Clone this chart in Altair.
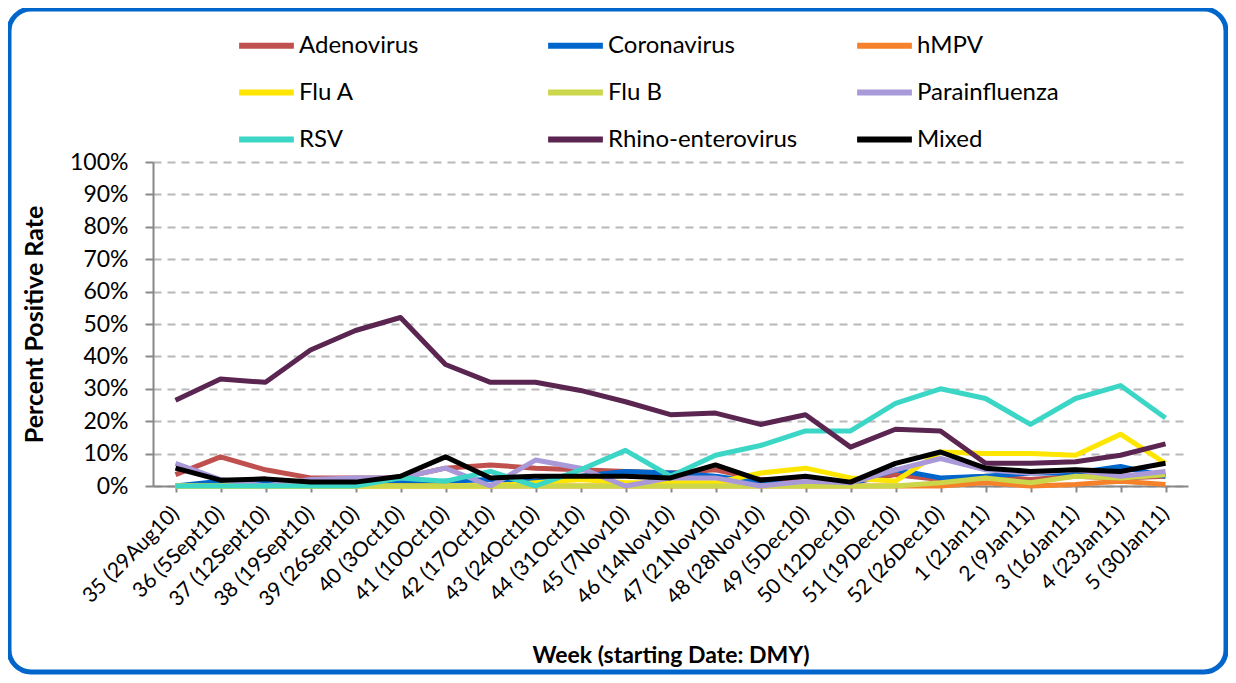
import altair as alt
import pandas as pd

weeks = ["35 (29Aug10)", "36 (5Sept10)", "37 (12Sept10)", "38 (19Sept10)", "39 (26Sept10)",
         "40 (3Oct10)", "41 (10Oct10)", "42 (17Oct10)", "43 (24Oct10)", "44 (31Oct10)",
         "45 (7Nov10)", "46 (14Nov10)", "47 (21Nov10)", "48 (28Nov10)", "49 (5Dec10)",
         "50 (12Dec10)", "51 (19Dec10)", "52 (26Dec10)", "1 (2Jan11)", "2 (9Jan11)",
         "3 (16Jan11)", "4 (23Jan11)", "5 (30Jan11)"]

adenovirus    = [3.5, 9, 5, 2.5, 2.5, 2.5, 5.5, 6.5, 5.5, 5, 4.5, 4, 5, 2, 2, 1, 3.5, 2, 3, 2, 3, 2.5, 3]
coronavirus   = [0, 1.5, 1.5, 0.5, 0.5, 1, 1.5, 2, 1.5, 3, 4.5, 4, 3, 1, 0.5, 0.5, 5, 2.5, 3, 4, 4, 6, 3]
hmpv          = [0, 0, 0, 0, 0, 0, 0, 0, 0, 0, 0, 0, 0, 0, 0, 0, 0, 0, 1, 0, 0.5, 1.5, 0.5]
flu_a         = [0, 0, 0, 0, 0, 0, 0, 0, 1, 2, 1, 1, 1, 4, 5.5, 2.5, 1.5, 10.5, 10, 10, 9.5, 16, 7]
flu_b         = [0, 0, 0, 0, 0, 0, 0, 0, 0, 0, 0, 0, 0, 0, 0, 0, 0, 1, 2.5, 1, 3, 2.5, 3.5]
parainfluenza = [7, 2, 0, 2, 2.5, 2.5, 5.5, 0, 8, 5.5, 0, 2.5, 2.5, 0, 1.5, 1, 5, 8.5, 5, 4, 5, 3, 4.5]
rsv           = [0, 0, 0, 0, 0, 2.5, 1.5, 4.5, 0, 5, 11, 3, 9.5, 12.5, 17, 17, 25.5, 30, 27, 19, 27, 31, 21]
rhino         = [26.5, 33, 32, 42, 48, 52, 37.5, 32, 32, 29.5, 26, 22, 22.5, 19, 22, 12, 17.5, 17, 7, 7, 7.5, 9.5, 13]
mixed         = [5.5, 1.8, 2.2, 1.2, 1.2, 3, 9, 2.5, 3, 3, 3, 2.5, 6.5, 1.8, 3, 1.2, 7, 10.5, 5.5, 4.5, 5, 4.5, 7]

series_names = ["Adenovirus", "Coronavirus", "hMPV", "Flu A", "Flu B", "Parainfluenza",
                "RSV", "Rhino-enterovirus", "Mixed"]
series_values = [adenovirus, coronavirus, hmpv, flu_a, flu_b, parainfluenza, rsv, rhino, mixed]
series_colors = ["#C0504D", "#0066CC", "#F5822A", "#FFE600", "#CCD64A", "#A999D8",
                 "#3CD6C6", "#5A2550", "#000000"]

rows = []
for name, vals in zip(series_names, series_values):
    for w, v in zip(weeks, vals):
        rows.append({"week": w, "virus": name, "pct": v})
df = pd.DataFrame(rows)

FONT = "Lato"
W, H = 1035, 324

lines = alt.Chart(df).mark_line(strokeWidth=5, strokeJoin="round").encode(
    x=alt.X("week:O", sort=weeks, scale=alt.Scale(type="point", padding=0.5),
            axis=alt.Axis(title="Week (starting Date: DMY)", labelAngle=-45,
                          labelAlign="right", labelBaseline="middle",
                          labelFontSize=21, labelPadding=18, titleFontSize=23,
                          titleFontWeight="bold", titlePadding=35, tickSize=6,
                          domainColor="#888888", tickColor="#888888", domainWidth=2,
                          tickWidth=2, labelColor="#000000", titleColor="#000000",
                          labelFont=FONT, titleFont=FONT, labelOverlap=False)),
    y=alt.Y("pct:Q", scale=alt.Scale(domain=[0, 100]),
            axis=alt.Axis(title="Percent Positive Rate", values=list(range(0, 101, 10)),
                          labelExpr="datum.value + '%'", labelFontSize=23,
                          titleFontSize=25, titleFontWeight="bold", titlePadding=22,
                          tickSize=8, domainColor="#888888", tickColor="#888888",
                          domainWidth=2, tickWidth=2, gridDash=[8, 6],
                          gridColor="#B8B8B8", gridWidth=2, labelPadding=17,
                          labelColor="#000000", titleColor="#000000",
                          labelFont=FONT, titleFont=FONT)),
    color=alt.Color("virus:N", sort=series_names,
                    scale=alt.Scale(domain=series_names, range=series_colors),
                    legend=alt.Legend(title=None, orient="none", legendX=83, legendY=-147,
                                      direction="horizontal",
                                      columns=3, symbolType="stroke", symbolSize=3000,
                                      symbolStrokeWidth=6, labelFontSize=24,
                                      labelFont=FONT, labelColor="#000000",
                                      columnPadding=47, rowPadding=4, labelOffset=2,
                                      gridAlign="all", labelLimit=400)),
)

border = alt.Chart(pd.DataFrame({"a": [0]})).mark_rect(
    fill=None, stroke="#0066CC", strokeWidth=5, cornerRadius=22, clip=False
).encode(x=alt.value(-144), x2=alt.value(W + 38), y=alt.value(-153), y2=alt.value(H + 186))

chart = alt.layer(border, lines).properties(
    width=W, height=H,
    autosize=alt.AutoSizeParams(type="none"),
    padding={"left": 145, "top": 154, "right": 40, "bottom": 189},
).configure_view(stroke=None).configure_axisY(grid=True).configure_axisX(grid=False)

chart.save("out.html", embed_options={"renderer": "svg", "actions": False})
